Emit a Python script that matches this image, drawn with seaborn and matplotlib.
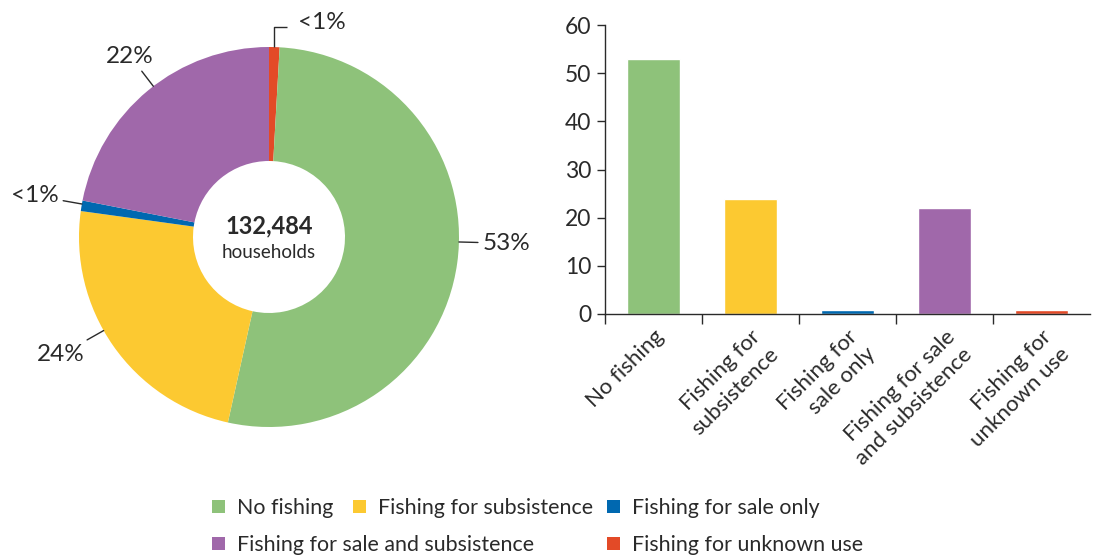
import numpy as np
import matplotlib
matplotlib.use("Agg")
import matplotlib.pyplot as plt
from matplotlib.patches import Patch
import seaborn as sns

# Fishing activity of households
categories = ["No fishing", "Fishing for subsistence", "Fishing for sale only",
              "Fishing for sale and subsistence", "Fishing for unknown use"]
tick_labels = ["No fishing", "Fishing for\nsubsistence", "Fishing for\nsale only",
               "Fishing for sale\nand subsistence", "Fishing for\nunknown use"]
shares = [53.0, 23.9, 0.9, 22.1, 0.9]
pie_labels = ["53%", "24%", "<1%", "22%", "<1%"]
total_households = "132,484"
colors = ["#8EC27A", "#FCC931", "#0068B0", "#A068AA", "#E34A27"]

sns.set_theme(style="white")
plt.rcParams["font.family"] = ["Lato", "DejaVu Sans"]
TXT = "#2a2a2a"

W, H = 1094, 560
fig = plt.figure(figsize=(W / 100, H / 100), dpi=100)

# ---- donut ----
axp = fig.add_axes([79 / W, 1 - 427 / H, 380 / W, 380 / H])
# start with the "unknown use" slice at twelve o'clock, then clockwise
order = [4, 0, 1, 2, 3]
vals = [shares[i] for i in order]
wedges, _ = axp.pie(vals, colors=[colors[i] for i in order], startangle=90,
                    counterclock=False, radius=1.0,
                    wedgeprops=dict(width=0.6, linewidth=0))
axp.set_xlim(-1, 1)
axp.set_ylim(-1, 1)
axp.set_aspect("equal")
axp.axis("off")

axp.text(0, 0.06, total_households, ha="center", va="center", fontsize=17,
         fontweight="bold", color=TXT)
axp.text(0, -0.08, "households", ha="center", va="center", fontsize=13.5,
         color=TXT)

# leader direction (degrees clockwise from twelve o'clock) and text radius
label_spots = {0: (91.5, 1.25), 1: (240.5, 1.26), 2: (280.0, 1.25),
               3: (322.5, 1.2)}

for w, i in zip(wedges, order):
    if i == 4:
        # elbow leader for the thin slice at the top
        mid = np.deg2rad((w.theta1 + w.theta2) / 2)
        x0, y0 = np.cos(mid), np.sin(mid)
        axp.plot([x0, x0, 0.095], [y0, 1.105, 1.105], color=TXT, lw=1,
                 clip_on=False, solid_capstyle="butt")
        axp.text(0.15, 1.13, pie_labels[i], ha="left", va="center",
                 fontsize=17.5, color=TXT)
    else:
        ang, rt = label_spots[i]
        a = np.deg2rad(ang)
        dx, dy = np.sin(a), np.cos(a)
        axp.plot([dx, 1.1 * dx], [dy, 1.1 * dy], color=TXT, lw=1,
                 clip_on=False)
        axp.text(rt * dx, rt * dy, pie_labels[i], ha="center", va="center",
                 fontsize=17.5, color=TXT)

# ---- bars ----
axb = fig.add_axes([605 / W, 1 - 314 / H, 485 / W, 289 / H])
sns.barplot(x=categories, y=shares, hue=categories, palette=colors,
            legend=False, width=0.54, saturation=1, ax=axb)
axb.set_ylim(0, 60)
axb.set_xlim(-0.5, 4.5)
axb.set_yticks(range(0, 61, 10))
axb.tick_params(axis="y", length=6, width=1, color=TXT, labelsize=16.5,
                labelcolor=TXT, pad=4, left=True)
axb.set_xticks(range(len(categories)))
axb.set_xticklabels(tick_labels, rotation=45, ha="right", va="top",
                    rotation_mode="anchor", fontsize=16, color=TXT,
                    linespacing=1.3)
axb.tick_params(axis="x", length=0, pad=9)
axb.set_xticks(np.arange(-0.5, 4.0, 1.0), minor=True)
axb.tick_params(axis="x", which="minor", length=7, width=1, color=TXT,
                bottom=True)
for side in ["top", "right"]:
    axb.spines[side].set_visible(False)
for side in ["left", "bottom"]:
    axb.spines[side].set_color(TXT)
    axb.spines[side].set_linewidth(1)
axb.set_xlabel("")
axb.set_ylabel("")

# ---- legend, two rows ----
slots = [(212, 508), (353, 508), (607, 508), (212, 545), (607, 545)]
for (px, py), name, col in zip(slots, categories, colors):
    fig.legend(handles=[Patch(facecolor=col, edgecolor="none", label=name)],
               loc="center left", bbox_to_anchor=(px / W, 1 - py / H),
               frameon=False, borderpad=0, borderaxespad=0,
               handlelength=0.62, handleheight=0.62, handletextpad=0.55,
               fontsize=15.4, labelcolor=TXT)

fig.savefig("out.png", dpi=100)
